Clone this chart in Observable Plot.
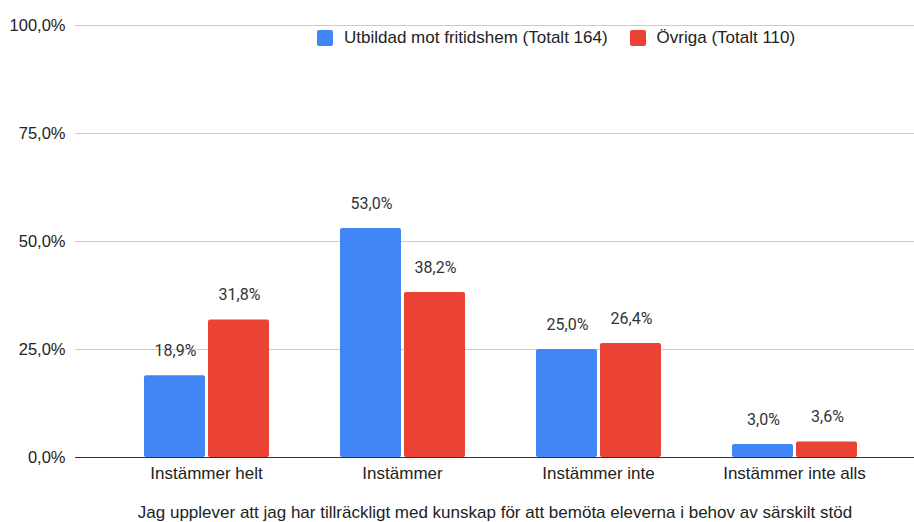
<!DOCTYPE html>
<html><head><meta charset="utf-8">
<script src="https://cdn.jsdelivr.net/npm/d3@7"></script>
<script src="https://cdn.jsdelivr.net/npm/@observablehq/plot@0.6"></script>
<style>
body{margin:0;background:#fff;}
#wrap{position:relative;width:914px;height:522px;overflow:hidden;}
.legend{position:absolute;top:28px;left:317px;display:flex;align-items:center;font:17px "Liberation Sans",Arial,sans-serif;color:#222;white-space:nowrap;}
.sw{width:16px;height:16px;border-radius:2px;margin-right:11px;}
.item{display:flex;align-items:center;margin-right:22px;}
</style></head><body><div id="wrap"></div>
<script>
const categories = ["Instämmer helt", "Instämmer", "Instämmer inte", "Instämmer inte alls"];
const seriesNames = ["Utbildad mot fritidshem (Totalt 164)", "Övriga (Totalt 110)"];
const utbildad = [18.9, 53.0, 25.0, 3.0];
const ovriga = [31.8, 38.2, 26.4, 3.6];
const yTicks = [0, 25, 50, 75, 100];
const colors = ["#4285F4", "#EA4335"];
const xTitle = "Jag upplever att jag har tillräckligt med kunskap för att bemöta eleverna i behov av särskilt stöd";

const fmt = v => v.toFixed(1).replace(".", ",") + "%";
const rowsU = categories.map((c, i) => ({cat: c, value: utbildad[i], series: seriesNames[0]}));
const rowsO = categories.map((c, i) => ({cat: c, value: ovriga[i], series: seriesNames[1]}));

const chart = Plot.plot({
  width: 914, height: 522,
  marginLeft: 75, marginRight: 0, marginTop: 25, marginBottom: 65,
  style: {fontFamily: '"Liberation Sans", Arial, sans-serif', fontSize: "17px", color: "#222", background: "#fff"},
  x: {domain: categories, range: [106, 893], padding: 0},
  y: {domain: [0, 100]},
  marks: [
    Plot.ruleY(yTicks.filter(d => d > 0), {stroke: "#ccc", strokeWidth: 1}),
    Plot.barY(rowsU, {x: "cat", y: "value", fill: colors[0], insetLeft: 36, insetRight: 99, rx: 2}),
    Plot.barY(rowsO, {x: "cat", y: "value", fill: colors[1], insetLeft: 100, insetRight: 35, rx: 2}),
    Plot.text(rowsU, {x: "cat", y: "value", text: d => fmt(d.value), dx: -31, dy: -25, fontFamily: "Roboto", fontSize: 16, fill: "#333"}),
    Plot.text(rowsO, {x: "cat", y: "value", text: d => fmt(d.value), dx: 33, dy: -25, fontFamily: "Roboto", fontSize: 16, fill: "#333"}),
    Plot.ruleY([0], {stroke: "#333", strokeWidth: 1.2}),
    Plot.axisY({ticks: yTicks, tickFormat: fmt, tickSize: 0, tickPadding: 10, label: null, fontSize: 16.5}),
    Plot.axisX({tickSize: 0, tickPadding: 9, label: null}),
    Plot.text([xTitle], {frameAnchor: "bottom", dy: 48, lineAnchor: "top", fontSize: 17})
  ]
});

const wrap = document.getElementById("wrap");
wrap.appendChild(chart);
const legend = document.createElement("div");
legend.className = "legend";
seriesNames.forEach((name, i) => {
  const it = document.createElement("div");
  it.className = "item";
  const sw = document.createElement("div");
  sw.className = "sw";
  sw.style.background = colors[i];
  const t = document.createElement("span");
  t.textContent = name;
  it.appendChild(sw); it.appendChild(t);
  legend.appendChild(it);
});
wrap.appendChild(legend);
</script></body></html>
